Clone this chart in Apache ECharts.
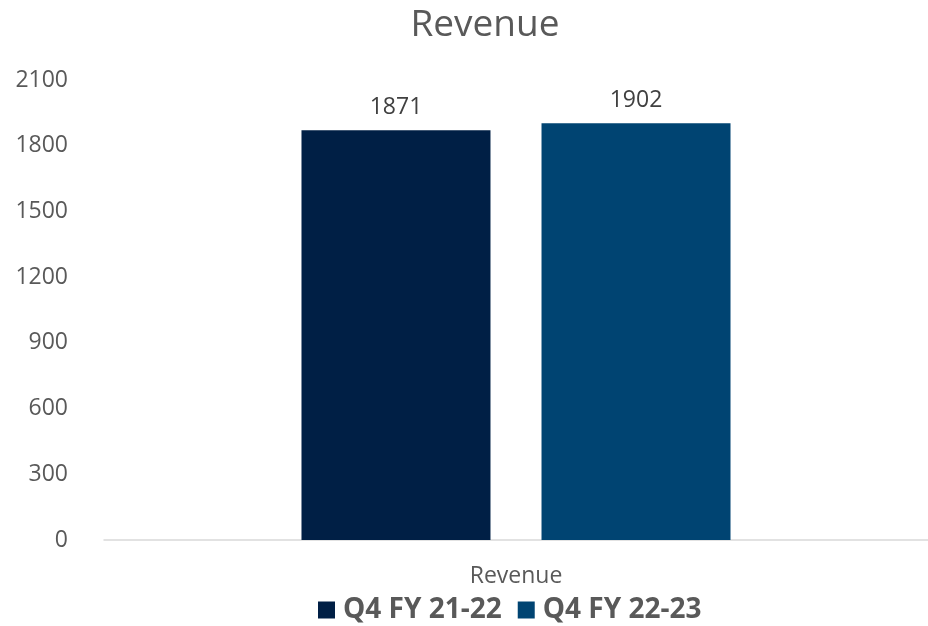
<!DOCTYPE html>
<html>
<head>
<meta charset="utf-8">
<script src="https://cdn.jsdelivr.net/npm/echarts@6/dist/echarts.min.js"></script>
<style>
  html, body { margin: 0; padding: 0; background: #fff; }
  #chart { width: 928px; height: 626px; }
</style>
</head>
<body>
<div id="chart"></div>
<script>
const categories = ['Revenue']
const seriesNames = ['Q4 FY 21-22', 'Q4 FY 22-23']
const seriesValues = [[1871], [1902]]
const seriesColors = ['#001f45', '#004472']
const yTicks = { min: 0, max: 2100, interval: 300 }

const font = '"Open Sans", "Noto Sans", sans-serif'

const chart = echarts.init(document.getElementById('chart'))
chart.setOption({
  animation: false,
  title: {
    text: 'Revenue',
    left: 480,
    textAlign: 'center',
    top: 2,
    textStyle: { fontFamily: font, fontSize: 37, fontWeight: 'normal', color: '#595959' }
  },
  legend: {
    top: 591,
    left: 313,
    itemWidth: 17,
    itemHeight: 17,
    itemGap: 16,
    icon: 'rect',
    textStyle: {
      fontFamily: font, fontSize: 28, fontWeight: 'bold', color: '#595959',
      padding: [0, 0, 0, 3]
    },
    data: seriesNames
  },
  grid: { left: 104, right: 0, top: 80, bottom: 86 },
  xAxis: {
    type: 'category',
    data: categories,
    axisLine: { lineStyle: { color: '#d9d9d9', width: 1.5 } },
    axisTick: { show: false },
    axisLabel: { fontFamily: font, fontSize: 23, color: '#595959', margin: 25 }
  },
  yAxis: {
    type: 'value',
    min: yTicks.min,
    max: yTicks.max,
    interval: yTicks.interval,
    splitLine: { show: false },
    axisLine: { show: false },
    axisTick: { show: false },
    axisLabel: {
      fontFamily: font, fontSize: 23, color: '#595959', margin: 36,
      formatter: (v) => String(v)
    }
  },
  series: seriesNames.map((name, i) => ({
    name: name,
    type: 'bar',
    data: seriesValues[i],
    barWidth: 189,
    barGap: '27%',
    itemStyle: { color: seriesColors[i] },
    label: {
      show: true,
      position: 'top',
      distance: 11,
      fontFamily: font,
      fontSize: 23,
      color: '#404040'
    }
  }))
})
</script>
</body>
</html>
